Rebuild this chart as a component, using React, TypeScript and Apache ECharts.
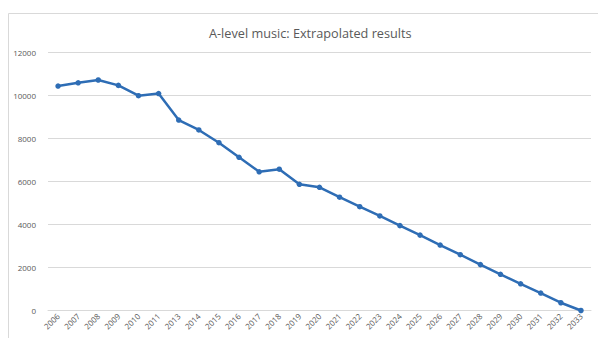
import React, { useEffect, useRef } from "react";
import * as echarts from "echarts";

const years = [
  "2006", "2007", "2008", "2009", "2010", "2011", "2013", "2014", "2015",
  "2016", "2017", "2018", "2019", "2020", "2021", "2022", "2023", "2024",
  "2025", "2026", "2027", "2028", "2029", "2030", "2031", "2032", "2033",
];
const entries = [
  10420, 10570, 10700, 10450, 9970, 10070, 8840, 8380, 7790,
  7110, 6440, 6560, 5860, 5720, 5260, 4820, 4390, 3940,
  3500, 3040, 2590, 2130, 1680, 1240, 810, 360, 0,
];
const titleText = "A-level music: Extrapolated results";

export default function App() {
  const ref = useRef<HTMLDivElement>(null);
  useEffect(() => {
    if (!ref.current) return;
    const chart = echarts.init(ref.current, undefined, { renderer: "svg" });
    chart.setOption({
      animation: false,
      backgroundColor: "#ffffff",
      graphic: [
        {
          type: "rect",
          shape: { x: 8.5, y: 13.5, width: 600, height: 340 },
          style: { fill: "none", stroke: "#d9d9d9", lineWidth: 1 },
          silent: true,
        },
      ],
      title: {
        text: titleText,
        left: 204,
        top: 21,
        textStyle: {
          fontFamily: "Open Sans",
          fontSize: 12.7,
          fontWeight: "normal",
          color: "#595959",
        },
      },
      grid: { left: 48, right: 7, top: 52, bottom: 27.5, containLabel: false },
      xAxis: {
        type: "category",
        data: years,
        boundaryGap: true,
        axisLine: { show: true, lineStyle: { color: "#d9d9d9", width: 1 } },
        axisTick: { show: false },
        axisLabel: {
          rotate: 45,
          fontSize: 8,
          color: "#595959",
          fontFamily: "Open Sans",
          margin: 4,
          interval: 0,
        },
      },
      yAxis: {
        type: "value",
        min: 0,
        max: 12000,
        interval: 2000,
        axisLine: { show: false },
        axisTick: { show: false },
        splitLine: { lineStyle: { color: "#d9d9d9", width: 1 } },
        axisLabel: {
          fontSize: 8,
          color: "#595959",
          fontFamily: "Open Sans",
          margin: 12,
          formatter: (v: number) => String(v),
        },
      },
      series: [
        {
          type: "line",
          data: entries,
          symbol: "circle",
          symbolSize: 5.5,
          lineStyle: { color: "#2e6db5", width: 2.5 },
          itemStyle: { color: "#2e6db5" },
        },
      ],
    });
    return () => chart.dispose();
  }, []);
  return (
    <div
      ref={ref}
      style={{ position: "absolute", left: 0, top: 0, width: 598, height: 338 }}
    />
  );
}
